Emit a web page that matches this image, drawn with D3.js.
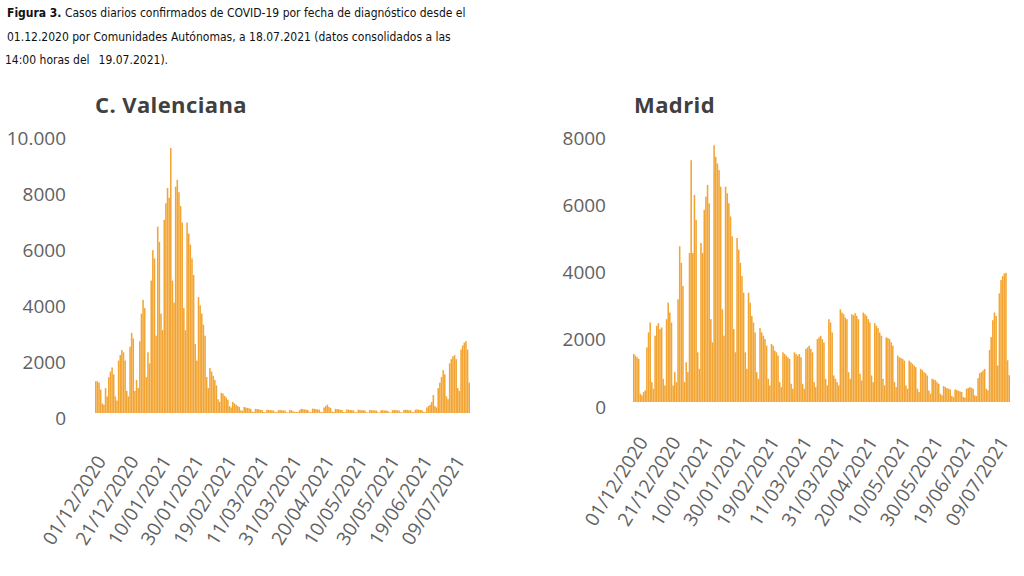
<!DOCTYPE html>
<html>
<head>
<meta charset="utf-8">
<script src="https://cdn.jsdelivr.net/npm/d3@7"></script>
<style>
  body { margin: 0; background: #fff; }
  svg { display: block; }
  .caption { font-family: "Liberation Sans Narrow", "DejaVu Sans Condensed", "Open Sans", sans-serif; font-size: 12px; fill: #111; }
  .title { font-family: "Open Sans", sans-serif; font-weight: bold; font-size: 22px; letter-spacing: 0.4px; fill: #404040; }
  .ylab, .xlab { font-family: "Open Sans", sans-serif; font-size: 19px; fill: #626262; }
</style>
</head>
<body>
<svg id="chart" width="1024" height="576"></svg>
<script>
// daily cases from 01/12/2020 to 18/07/2021 (230 days)
const tickLabels = ["01/12/2020", "21/12/2020", "10/01/2021", "30/01/2021", "19/02/2021", "11/03/2021",
  "31/03/2021", "20/04/2021", "10/05/2021", "30/05/2021", "19/06/2021", "09/07/2021"];

const valencia = [
  1150, 1150, 1100, 850, 350, 300, 900,
  600, 1300, 1500, 1650, 1400, 600, 450,
  1900, 2100, 2280, 2200, 1900, 800, 600,
  2400, 2900, 2700, 800, 1200, 900, 2600,
  3600, 4100, 3800, 1300, 2200, 1800, 4800,
  5900, 5600, 2800, 6750, 6200, 3600, 3000,
  7000, 7600, 8150, 7800, 9600, 4800, 4000,
  8200, 8450, 8000, 7500, 6900, 3800, 3000,
  6900, 6500, 6100, 5600, 5000, 2500, 1900,
  4200, 3900, 3600, 3200, 2800, 1300, 900,
  1630, 1500, 1350, 1200, 1000, 500, 400,
  730, 700, 620, 560, 480, 250, 200,
  400, 350, 300, 250, 220, 100, 80,
  220, 200, 180, 170, 150, 50, 40,
  150, 140, 130, 120, 110, 40, 30,
  120, 110, 100, 100, 90, 30, 30,
  100, 110, 100, 90, 90, 30, 20,
  110, 100, 60, 40, 40, 30, 100,
  150, 140, 130, 120, 110, 40, 30,
  160, 150, 140, 130, 120, 40, 30,
  200, 250, 300, 220, 180, 50, 40,
  150, 140, 130, 120, 110, 40, 30,
  130, 120, 110, 100, 100, 30, 30,
  120, 110, 100, 100, 90, 30, 20,
  110, 100, 100, 90, 90, 30, 20,
  100, 100, 90, 90, 80, 30, 20,
  100, 110, 100, 100, 90, 30, 20,
  110, 120, 110, 100, 100, 40, 30,
  120, 130, 120, 110, 100, 40, 30,
  200, 250, 300, 400, 650, 250, 200,
  900, 1100, 1300, 1550, 1400, 600, 500,
  1800, 1950, 2050, 2100, 1950, 900, 800,
  2300, 2450, 2550, 2600, 2300, 1100
];

const madrid = [
  1450, 1400, 1350, 1300, 250, 200, 300,
  350, 1650, 2100, 2400, 600, 400, 2000,
  2300, 2380, 2200, 2250, 700, 500, 2500,
  3000, 2700, 2400, 500, 900, 600, 3100,
  4700, 4200, 3500, 600, 1200, 900, 4500,
  7300, 4500, 6250, 5500, 1500, 1000, 4800,
  4500, 5800, 6200, 6550, 6000, 2500, 1800,
  7750, 7400, 7200, 7000, 6500, 2800, 2000,
  6500, 6300, 6000, 5600, 5000, 2200, 1500,
  4950, 4600, 4200, 3800, 3300, 1500, 1000,
  3300, 3000, 2600, 2400, 2100, 900, 700,
  2230, 2100, 2000, 1900, 1700, 700, 500,
  1750, 1700, 1550, 1500, 1400, 600, 450,
  1500, 1450, 1400, 1350, 1300, 550, 400,
  1500, 1450, 1400, 1450, 1350, 550, 400,
  1600, 1650, 1700, 1600, 1500, 600, 450,
  1900, 1950, 2000, 1900, 1800, 700, 500,
  2500, 2400, 2100, 800, 700, 600, 500,
  2800, 2700, 2650, 2550, 2500, 900, 700,
  2650, 2620, 2680, 2600, 2500, 850, 650,
  2700, 2650, 2600, 2500, 2400, 800, 600,
  2380, 2300, 2230, 2100, 2000, 700, 500,
  1950, 1930, 1900, 1800, 1700, 600, 450,
  1400, 1350, 1330, 1300, 1250, 500, 400,
  1250, 1200, 1150, 1100, 1050, 400, 300,
  1000, 960, 900, 870, 800, 350, 250,
  700, 680, 660, 600, 550, 250, 200,
  480, 450, 420, 400, 380, 180, 150,
  380, 360, 340, 320, 300, 150, 130,
  400, 420, 450, 430, 400, 200, 180,
  720, 870, 900, 950, 1000, 400, 350,
  1570, 1960, 2470, 2700, 2600, 1100, 3280,
  3680, 3800, 3880, 3900, 1260, 810
];

const valenciaTicks = [0, 2000, 4000, 6000, 8000, 10000];
const valenciaTickText = ["0", "2000", "4000", "6000", "8000", "10.000"];
const madridTicks = [0, 2000, 4000, 6000, 8000];
const madridTickText = ["0", "2000", "4000", "6000", "8000"];

const barColor = "#f3a534";

var svg = d3.select('#chart');
svg.append('rect').attr('width', 1024).attr('height', 576).attr('fill', '#fff');

// caption
var cap = svg.append('text').attr('class', 'caption').attr('x', 7).attr('y', 17);
cap.append('tspan').style('font-weight', 'bold').text('Figura 3.');
cap.append('tspan').text(' Casos diarios confirmados de COVID-19 por fecha de diagnóstico desde el');
svg.append('text').attr('class', 'caption').attr('x', 7).attr('y', 41)
  .text('01.12.2020 por Comunidades Autónomas, a 18.07.2021 (datos consolidados a las');
var cap3 = svg.append('text').attr('class', 'caption').attr('x', 5).attr('y', 64);
cap3.append('tspan').text('14:00 horas del');
cap3.append('tspan').attr('dx', 9).text('19.07.2021).');

function drawPanel(cfg){
  var g = svg.append('g');
  var x = d3.scaleBand()
    .domain(d3.range(cfg.values.length))
    .range([cfg.left, cfg.right])
    .paddingInner(0.05);
  var y = d3.scaleLinear()
    .domain([0, cfg.max])
    .range([cfg.base, cfg.top]);
  // tick labels sit on a slightly taller scale than the bars
  var yLab = d3.scaleLinear()
    .domain([0, cfg.max])
    .range([cfg.base + 5, cfg.labTop]);

  g.append('text').attr('class', 'title')
    .attr('x', cfg.titleX).attr('y', 113)
    .text(cfg.title);

  g.append('g').selectAll('rect')
    .data(cfg.values)
    .enter().append('rect')
    .attr('x', (d, i) => x(i))
    .attr('width', x.bandwidth())
    .attr('y', d => y(d))
    .attr('height', d => cfg.base - y(d))
    .attr('fill', barColor);

  g.append('g').selectAll('text')
    .data(cfg.ticks)
    .enter().append('text')
    .attr('class', 'ylab')
    .attr('text-anchor', 'end')
    .attr('x', cfg.labelX)
    .attr('y', d => yLab(d))
    .attr('dy', '0.35em')
    .text((d, i) => cfg.tickText[i]);

  g.append('g').selectAll('text')
    .data(tickLabels)
    .enter().append('text')
    .attr('class', 'xlab')
    .attr('text-anchor', 'end')
    .attr('transform', (d, i) => {
      let cx = x(i * 20) + x.bandwidth() / 2 + cfg.xlDx;
      return 'translate(' + cx + ',' + (cfg.base + cfg.xlDy) + ') rotate(-58)';
    })
    .text(d => d);
}

drawPanel({
  title: 'C. Valenciana', titleX: 95, values: valencia, max: 10000,
  left: 95, right: 470, base: 413, top: 137, labTop: 138, labelX: 66,
  ticks: valenciaTicks, tickText: valenciaTickText, xlDx: 11, xlDy: 48
});

drawPanel({
  title: 'Madrid', titleX: 634, values: madrid, max: 8000,
  left: 633, right: 1010, base: 402, top: 137, labTop: 138, labelX: 606,
  ticks: madridTicks, tickText: madridTickText, xlDx: 15, xlDy: 40
});
</script>
</body>
</html>
